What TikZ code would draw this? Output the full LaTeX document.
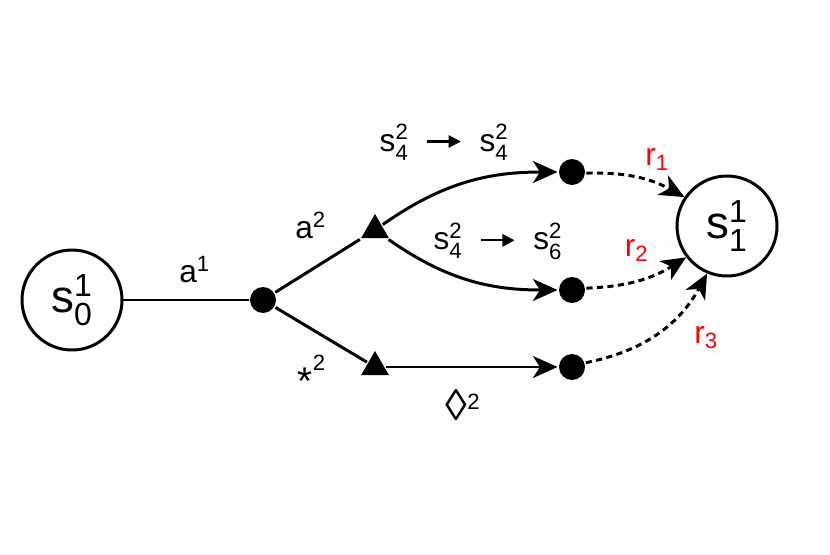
\documentclass[tikz,border=0pt]{standalone}
\usepackage{fontspec}
\usepackage{amsmath}
\setmainfont{Liberation Sans}
\usetikzlibrary{arrows.meta, positioning, shapes}

\newcommand{\sym}[3]{$\text{#1}^{\text{#2}}_{\text{#3}}$}
\newcommand{\tto}{\hspace{10pt}\tikz[baseline=-.3em]\draw[line width=1.3pt,-{Triangle[length=7pt,width=7pt]}] (0pt,0pt) -- (19pt,0pt);\hspace{10pt}}

\begin{document}
\begin{tikzpicture}[x=0.02cm, y=-0.02cm, line width=1.7pt,
   >={Stealth[length=14pt,width=12.5pt,inset=4pt]},
   state/.style={circle,draw,minimum size=2.0cm,inner sep=0pt,font=\fontsize{26}{30}\selectfont},
   dot/.style={circle,fill,minimum size=0.52cm,inner sep=0pt},
   tri/.style={regular polygon,regular polygon sides=3,fill,minimum size=0.64cm,inner sep=0pt},
   lab/.style={font=\fontsize{18}{22}\selectfont,inner sep=0pt},
   rew/.style={lab,text=red},
   reward/.style={->,dash pattern=on 3.5pt off 2.5pt}]

   \useasboundingbox (0,0) rectangle (830,554);

   % Nodes
      \node[state] (s0)   at (72,300)  {\sym{s}{1}{0}};
      \node[state] (s1)   at (727,226) {\sym{s}{1}{1}};
      \node[dot]   (root) at (263,300) {};
      \node[tri]   (up)   at (375,230) {};
      \node[tri]   (low)  at (375,367) {};
      \node[dot]   (keep) at (572,172) {};
      \node[dot]   (move) at (572,290) {};
      \node[dot]   (wait) at (572,367) {};

   % Paths
      \path (s0)   edge node[lab,above=9pt,pos=.57]    {$\text{a}^{\text{1}}$} (root);
      \path (root) edge node[lab,above=17pt,pos=.42]   {$\text{a}^{\text{2}}$} (up)
                   edge node[lab,below=14pt,pos=.40]   {{\fontsize{22}{26}\selectfont\raisebox{-.33em}{*}}$^{\text{2}}$} (low);
      \path (up)   edge [->,out=35,in=180]  node[lab,above=17pt,pos=.37] {\sym{s}{2}{4}\tto\sym{s}{2}{4}} (keep)
                   edge [->,out=-35,in=180] node[lab,above=15pt,pos=.68] {\sym{s}{2}{4}\tto\sym{s}{2}{6}} (move);
      \path (low)  edge [->] node[lab,below=12pt,pos=.45] {{\fontsize{25}{28}\selectfont ◊}$^{\text{2}}$} (wait);
      \path (keep) edge [reward,bend left=15]  node[rew,above=7pt,pos=.72]   {$\text{r}_{\text{1}}$} (s1);
      \path (move) edge [reward,bend right=15] node[rew,above=10pt,pos=.48]  {$\text{r}_{\text{2}}$} (s1);
      \path (wait) edge [reward,bend right=25] node[rew,below=17pt,xshift=7pt,pos=.85] {$\text{r}_{\text{3}}$} (s1);
\end{tikzpicture}
\end{document}
